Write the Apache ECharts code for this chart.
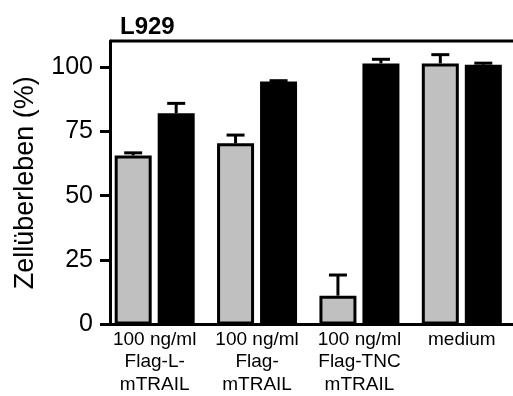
<!DOCTYPE html>
<html>
<head>
<meta charset="utf-8">
<script src="https://cdn.jsdelivr.net/npm/echarts@6/dist/echarts.min.js"></script>
<style>
  html, body { margin: 0; padding: 0; background: #fff; }
  #chart { width: 513px; height: 396px; }
</style>
</head>
<body>
<div id="chart"></div>
<script>
var categories = ['100 ng/ml\nFlag-L-\nmTRAIL', '100 ng/ml\nFlag-\nmTRAIL', '100 ng/ml\nFlag-TNC\nmTRAIL', 'medium']
var grayValues = [65.6, 70.3, 11.2, 101.3]
var grayErrors = [1, 3.2, 8, 3.4]
var blackValues = [82, 94.3, 101.3, 100.8]
var blackErrors = [3.8, 0.3, 1.6, 0.6]
var yTicks = [0, 25, 50, 75, 100]

var font = 'Liberation Sans, Arial, sans-serif'

// error bars, only the upper half is drawn
function errorBar(offset) {
    return function (params, api) {
        var i = api.value(0)
        var v = api.value(1)
        var e = api.value(2)
        var p0 = api.coord([i, v])
        var p1 = api.coord([i, v + e])
        var x = p0[0] + offset
        var st = { stroke: '#000', lineWidth: 3 }
        return {
            type: 'group',
            children: [
                { type: 'line', shape: { x1: x, y1: p0[1], x2: x, y2: p1[1] }, style: st },
                { type: 'line', shape: { x1: x - 9, y1: p1[1], x2: x + 9, y2: p1[1] }, style: st }
            ]
        }
    }
}

function errData(values, errors) {
    var out = []
    for (var i = 0; i < values.length; i++) {
        out.push([i, values[i], errors[i]])
    }
    return out
}

var myChart = echarts.init(document.getElementById('chart'))

var option = {
    animation: false,
    title: {
        text: 'L929',
        left: 115,
        top: 10,
        textStyle: { fontFamily: font, fontWeight: 'bold', fontSize: 24, color: '#000' }
    },
    grid: {
        left: 103.5,
        right: -10.5,
        top: 41,
        bottom: 69,
        containLabel: false
    },
    graphic: [{
        type: 'line',
        shape: { x1: 110, y1: 41, x2: 513, y2: 41 },
        style: { stroke: '#000', lineWidth: 3 }
    }],
    xAxis: {
        type: 'category',
        data: categories,
        axisLine: { lineStyle: { color: '#000', width: 3 } },
        axisTick: { show: false },
        axisLabel: {
            color: '#000',
            fontFamily: font,
            fontSize: 19,
            lineHeight: 22.5,
            margin: 4,
            interval: 0
        }
    },
    yAxis: {
        type: 'value',
        min: 0,
        max: 110,
        interval: 25,
        offset: -6.5,
        name: 'Zellüberleben (%)',
        nameLocation: 'middle',
        nameRotate: 90,
        nameGap: 71,
        nameTextStyle: { fontFamily: font, fontSize: 27, color: '#000' },
        splitLine: { show: false },
        axisLine: { show: true, lineStyle: { color: '#000', width: 3 } },
        axisTick: { show: true, length: 10, customValues: yTicks, lineStyle: { color: '#000', width: 3 } },
        axisLabel: {
            color: '#000',
            fontFamily: font,
            fontSize: 25,
            margin: 17,
            customValues: yTicks
        }
    },
    series: [
        {
            type: 'bar',
            data: grayValues,
            barWidth: 37,
            barGap: '16.2%',
            itemStyle: { color: '#c0c0c0', borderColor: '#000', borderWidth: 3 },
            z: 2
        },
        {
            type: 'bar',
            data: blackValues,
            barWidth: 37,
            barGap: '16.2%',
            itemStyle: { color: '#000', borderColor: '#000', borderWidth: 3 },
            z: 2
        },
        {
            type: 'custom',
            data: errData(grayValues, grayErrors),
            renderItem: errorBar(-21.5),
            z: 3
        },
        {
            type: 'custom',
            data: errData(blackValues, blackErrors),
            renderItem: errorBar(21.5),
            z: 3
        }
    ]
}

myChart.setOption(option)
</script>
</body>
</html>
